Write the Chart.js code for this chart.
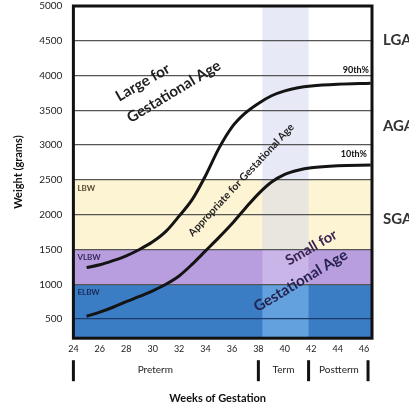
<!DOCTYPE html>
<html>
<head>
<meta charset="utf-8">
<title>Birth weight by weeks of gestation</title>
<script src="https://cdn.jsdelivr.net/npm/chart.js@4"></script>
<style>
  html, body { margin: 0; padding: 0; background: #fff; }
  #wrap { width: 409px; height: 405px; position: relative; }
</style>
</head>
<body>
<div id="wrap"><canvas id="growthChart"></canvas></div>
<script>
// weeks of gestation and the two percentile curves (grams)
const weeks = [25, 26, 27, 28, 29, 30, 31, 32, 33, 34, 35, 36, 37, 38, 39, 40, 41, 42, 44, 46.5];
const p90 = [1240, 1280, 1340, 1410, 1500, 1610, 1760, 1980, 2220, 2560, 2950, 3260, 3460, 3600, 3710, 3780, 3825, 3850, 3875, 3890];
const p10 = [540, 600, 670, 750, 825, 905, 1000, 1120, 1290, 1480, 1670, 1870, 2090, 2300, 2470, 2580, 2640, 2675, 2705, 2715];

const xTicks = [24, 26, 28, 30, 32, 34, 36, 38, 40, 42, 44, 46];
const yTicks = [500, 1000, 1500, 2000, 2500, 3000, 3500, 4000, 4500, 5000];

// birth weight bands (lower edges, grams)
const bandEdges = [0, 1000, 1500, 2500, 5000];
const bandNames = ["ELBW", "VLBW", "LBW", ""];
const termWeeks = [38.3, 41.8];
const periodNames = ["Preterm", "Term", "Postterm"];
const periodEdges = [24, 38, 41.8, 46.3];
const sizeGroups = ["LGA", "AGA", "SGA"];

const FONT = "Lato, 'Open Sans', sans-serif";
const bandColors = ["#3b7dc4", "#b89ddf", "#fdf4d3", "#ffffff"];
const termColors = ["#62a0de", "#c9b5e8", "#e9e5df", "#e7e9f6"];
const bandTextColors = ["#1b2d5c", "#3a2a5c", "#5a4a30", ""];

const decor = {
    id: "decor",
    beforeDraw(chart) {
        const { ctx, chartArea: a, scales: { x, y } } = chart;
        ctx.save();
        ctx.beginPath();
        ctx.rect(a.left, a.top, a.width, a.height);
        ctx.clip();
        const xs = x.getPixelForValue(termWeeks[0]);
        const xe = x.getPixelForValue(termWeeks[1]);
        for (let i = 0; i < bandEdges.length - 1; i++) {
            const top = y.getPixelForValue(bandEdges[i + 1]);
            const bot = y.getPixelForValue(bandEdges[i]);
            ctx.fillStyle = bandColors[i];
            ctx.fillRect(a.left, top, a.width, bot - top);
            ctx.fillStyle = termColors[i];
            ctx.fillRect(xs, top, xe - xs, bot - top);
        }
        ctx.restore();
    },
    afterDatasetsDraw(chart) {
        const { ctx, chartArea: a, scales: { x, y } } = chart;
        ctx.save();

        // band labels
        ctx.font = "bold 8px " + FONT;
        ctx.textAlign = "left";
        ctx.textBaseline = "middle";
        for (let i = 0; i < bandNames.length; i++) {
            if (!bandNames[i]) continue;
            ctx.fillStyle = bandTextColors[i];
            ctx.fillText(bandNames[i], a.left + 4, y.getPixelForValue(bandEdges[i + 1]) + 8);
        }

        // percentile labels at the end of the curves
        const last = weeks.length - 1;
        ctx.font = "bold 9px " + FONT;
        ctx.fillStyle = "#111";
        ctx.textAlign = "right";
        ctx.textBaseline = "bottom";
        ctx.fillText("90th%", a.right - 3, y.getPixelForValue(p90[last]) - 9);
        ctx.fillText("10th%", a.right - 5, y.getPixelForValue(p10[last]) - 6);

        // rotated region names
        const notes = [
            { text: "Large for", wk: 29.25, g: 3900, angle: -30, size: 15, color: "#1e1e1e" },
            { text: "Gestational Age", wk: 31.6, g: 3770, angle: -31, size: 15, color: "#1e1e1e" },
            { text: "Appropriate for Gestational Age", wk: 36.7, g: 2500, angle: -47, size: 10.5, color: "#1e1e1e" },
            { text: "Small for", wk: 42.0, g: 1527, angle: -30, size: 14.5, color: "#3b2352" },
            { text: "Gestational Age", wk: 41.2, g: 1050, angle: -31, size: 15, color: "#26224e" }
        ];
        ctx.textAlign = "center";
        ctx.textBaseline = "middle";
        notes.forEach(n => {
            ctx.save();
            ctx.translate(x.getPixelForValue(n.wk), y.getPixelForValue(n.g));
            ctx.rotate(n.angle * Math.PI / 180);
            ctx.font = "bold " + n.size + "px " + FONT;
            ctx.fillStyle = n.color;
            ctx.fillText(n.text, 0, 0);
            ctx.restore();
        });

        // plot frame
        ctx.strokeStyle = "#111";
        ctx.lineWidth = 3;
        ctx.strokeRect(a.left, a.top, a.width, a.height);
        ctx.restore();
    },
    afterDraw(chart) {
        const { ctx, chartArea: a, scales: { x, y } } = chart;
        ctx.save();

        // size groups on the right
        const groupAt = [4510, 3280, 1930];
        ctx.font = "bold 15px " + FONT;
        ctx.fillStyle = "#333";
        ctx.textAlign = "left";
        ctx.textBaseline = "middle";
        sizeGroups.forEach((s, i) => ctx.fillText(s, a.right + 11, y.getPixelForValue(groupAt[i])));

        // preterm / term / postterm brackets
        ctx.strokeStyle = "#111";
        ctx.lineWidth = 3;
        periodEdges.forEach(w => {
            const px = x.getPixelForValue(w);
            ctx.beginPath();
            ctx.moveTo(px, a.bottom + 22);
            ctx.lineTo(px, a.bottom + 43);
            ctx.stroke();
        });
        const labelAt = [30.2, 39.9, 44.1];
        ctx.font = "10px " + FONT;
        ctx.fillStyle = "#222";
        ctx.textAlign = "center";
        periodNames.forEach((p, i) => ctx.fillText(p, x.getPixelForValue(labelAt[i]), a.bottom + 32));

        ctx.font = "bold 11px " + FONT;
        ctx.fillStyle = "#111";
        ctx.fillText("Weeks of Gestation", (a.left + a.right) / 2 - 5, a.bottom + 60);
        ctx.restore();
    }
};

new Chart(document.getElementById("growthChart"), {
    type: "line",
    data: {
        datasets: [
            {
                label: "90th%",
                data: weeks.map((w, i) => ({ x: w, y: p90[i] })),
                borderColor: "#141414",
                borderWidth: 3,
                pointRadius: 0,
                cubicInterpolationMode: "monotone",
                fill: false
            },
            {
                label: "10th%",
                data: weeks.map((w, i) => ({ x: w, y: p10[i] })),
                borderColor: "#141414",
                borderWidth: 3,
                pointRadius: 0,
                cubicInterpolationMode: "monotone",
                fill: false
            }
        ]
    },
    options: {
        responsive: true,
        maintainAspectRatio: false,
        animation: false,
        layout: { padding: { left: 0, right: 37, top: 0, bottom: 46 } },
        plugins: { legend: { display: false }, tooltip: { enabled: false } },
        scales: {
            x: {
                type: "linear",
                min: 24,
                max: 46.6,
                afterBuildTicks: s => { s.ticks = xTicks.map(v => ({ value: v })); },
                grid: { display: false, drawTicks: false },
                border: { display: false },
                ticks: {
                    padding: 5,
                    autoSkip: false,
                    maxRotation: 0,
                    color: "#222",
                    font: { family: FONT, size: 9 },
                    callback: v => String(v)
                }
            },
            y: {
                type: "linear",
                min: 225,
                max: 5000,
                afterBuildTicks: s => { s.ticks = yTicks.map(v => ({ value: v })); },
                grid: {
                    drawTicks: true,
                    tickLength: 11,
                    tickColor: "rgba(0,0,0,0)",
                    lineWidth: 1.3,
                    color: c => (c.tick && c.tick.value === 500 ? "#1c3b6b" : "#555")
                },
                border: { display: false },
                ticks: {
                    padding: 0,
                    color: "#222",
                    font: { family: FONT, size: 10 },
                    callback: v => String(v)
                },
                title: {
                    display: true,
                    text: "Weight (grams)",
                    color: "#111",
                    font: { family: FONT, size: 11, weight: "bold" },
                    padding: { top: 12, bottom: 14 }
                }
            }
        }
    },
    plugins: [decor]
});
</script>
</body>
</html>
